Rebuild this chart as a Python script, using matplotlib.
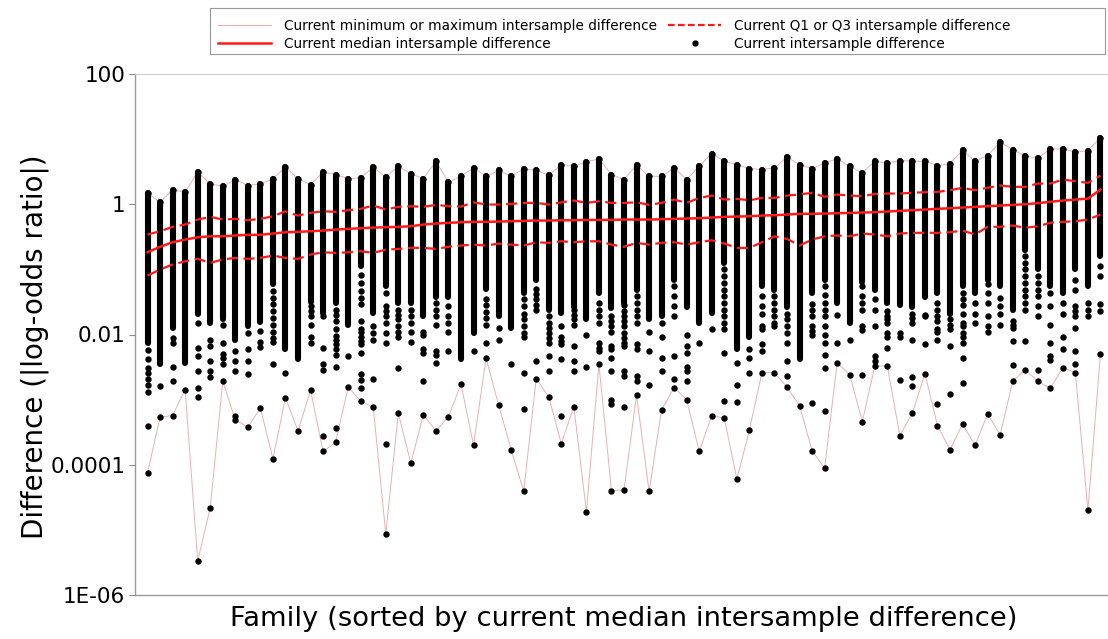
import matplotlib
matplotlib.use('Agg')
import matplotlib.pyplot as plt
from matplotlib.lines import Line2D
from matplotlib.patches import Rectangle
from matplotlib.ticker import NullLocator
import numpy as np

# ---- data (one entry per family, sorted by median) ----
max_vals = [1.5, 1.07, 1.68, 1.53, 3.1, 2.06, 1.89, 2.39, 1.94, 2.06,
            2.45, 3.75, 2.45, 2.0, 3.1, 2.86, 2.48, 2.55, 3.7, 2.6,
            3.84, 2.93, 2.48, 4.57, 2.18, 2.69, 3.62, 2.69, 3.3, 2.69,
            3.5, 3.3, 2.79, 4.07, 3.84, 4.48, 4.98, 2.86, 2.39, 4.03,
            2.69, 2.69, 3.62, 2.39, 3.84, 6.0, 4.57, 4.07, 3.53, 3.41,
            3.62, 5.27, 4.07, 3.5, 4.32, 4.98, 3.84, 3.03, 4.57, 4.32,
            4.69, 4.57, 4.57, 3.93, 4.22, 6.75, 4.57, 5.6, 8.96, 6.92,
            5.46, 5.09, 7.1, 7.1, 6.29, 6.68, 10.5]

q3_vals = [0.343, 0.385, 0.45, 0.488, 0.582, 0.64, 0.582, 0.597, 0.568, 0.597,
           0.654, 0.78, 0.67, 0.738, 0.78, 0.764, 0.809, 0.85, 0.955, 0.829,
           0.912, 0.932, 0.912, 0.979, 0.932, 0.92, 1.07, 0.99, 0.99, 1.01,
           1.05, 1.05, 0.99, 1.07, 1.14, 1.05, 1.11, 1.05, 1.05, 1.07,
           0.98, 1.05, 1.18, 1.05, 1.25, 1.36, 1.18, 1.21, 1.15, 1.25,
           1.25, 1.36, 1.41, 1.5, 1.3, 1.41, 1.36, 1.33, 1.44, 1.46,
           1.46, 1.5, 1.53, 1.55, 1.64, 1.79, 1.64, 1.79, 1.94, 1.85,
           1.85, 2.08, 2.08, 2.39, 2.26, 2.13, 2.76]

median_vals = [0.183, 0.222, 0.261, 0.287, 0.311, 0.322, 0.322, 0.331, 0.339, 0.339,
               0.355, 0.372, 0.377, 0.385, 0.394, 0.408, 0.419, 0.428, 0.438, 0.443,
               0.45, 0.459, 0.488, 0.505, 0.518, 0.529, 0.537, 0.537, 0.542, 0.548,
               0.556, 0.562, 0.562, 0.568, 0.568, 0.575, 0.575, 0.575, 0.582, 0.582,
               0.582, 0.588, 0.597, 0.603, 0.61, 0.625, 0.64, 0.647, 0.654, 0.67,
               0.678, 0.695, 0.713, 0.713, 0.72, 0.727, 0.738, 0.746, 0.754, 0.773,
               0.792, 0.809, 0.829, 0.85, 0.868, 0.89, 0.912, 0.932, 0.955, 0.979,
               1.0, 1.04, 1.09, 1.14, 1.18, 1.22, 1.68]

q1_vals = [0.0803, 0.0993, 0.119, 0.133, 0.145, 0.126, 0.142, 0.15, 0.145, 0.15,
           0.163, 0.15, 0.145, 0.169, 0.183, 0.179, 0.183, 0.19, 0.179, 0.201,
           0.206, 0.214, 0.214, 0.206, 0.222, 0.232, 0.24, 0.232, 0.249, 0.24,
           0.232, 0.261, 0.255, 0.27, 0.261, 0.27, 0.27, 0.24, 0.222, 0.255,
           0.24, 0.255, 0.261, 0.24, 0.261, 0.28, 0.249, 0.214, 0.214, 0.261,
           0.322, 0.294, 0.232, 0.287, 0.322, 0.331, 0.322, 0.355, 0.343, 0.322,
           0.355, 0.364, 0.364, 0.364, 0.372, 0.394, 0.343, 0.45, 0.45, 0.471,
           0.434, 0.459, 0.518, 0.537, 0.548, 0.582, 0.695]

min_vals = [7.5e-5, 5.4e-4, 5.7e-4, 1.43e-3, 3.3e-6, 2.2e-5, 1.9e-3, 4.9e-4, 3.8e-4, 7.4e-4,
            1.24e-4, 1.07e-3, 3.3e-4, 1.39e-3, 1.6e-4, 2.2e-4, 1.57e-3, 9.5e-4, 7.6e-4, 8.7e-6,
            6.2e-4, 1.05e-4, 5.9e-4, 3.3e-4, 5.5e-4, 1.72e-3, 2.0e-4, 4.3e-3, 8.3e-4, 1.7e-4,
            3.9e-5, 2.1e-3, 1.1e-3, 2.1e-4, 7.8e-4, 1.9e-5, 3.5e-3, 4.0e-5, 4.1e-5, 1.18e-3,
            3.9e-5, 7.0e-4, 1.53e-3, 9.9e-4, 1.6e-4, 5.7e-4, 5.2e-4, 6.0e-5, 3.4e-4, 2.6e-3,
            2.6e-3, 1.55e-3, 8.1e-4, 1.65e-4, 8.8e-5, 3.7e-3, 2.4e-3, 4.6e-4, 3.25e-3, 3.3e-3,
            2.8e-4, 6.2e-4, 2.5e-3, 4.0e-4, 1.7e-4, 4.2e-4, 2.0e-4, 6.0e-4, 2.9e-4, 1.9e-3,
            2.9e-3, 1.9e-3, 1.5e-3, 3.1e-3, 2.6e-3, 2.0e-5, 5.1e-3]

# lower end of the densely packed run of points in each column
dense_low = [0.0074, 0.0035, 0.0126, 0.0036, 0.0204, 0.0151, 0.017, 0.0083, 0.0135, 0.0158,
             0.059, 0.0059, 0.0042, 0.0316, 0.0214, 0.030, 0.0141, 0.112, 0.0214, 0.055,
             0.030, 0.030, 0.019, 0.038, 0.038, 0.0042, 0.0107, 0.05, 0.019, 0.0126,
             0.0437, 0.069, 0.024, 0.0214, 0.0269, 0.017, 0.0437, 0.0257, 0.030, 0.049,
             0.017, 0.019, 0.069, 0.0269, 0.0151, 0.0214, 0.126, 0.0059, 0.0093, 0.055,
             0.049, 0.0269, 0.0042, 0.0437, 0.069, 0.030, 0.0151, 0.063, 0.049, 0.030,
             0.028, 0.0269, 0.038, 0.0437, 0.0204, 0.055, 0.0437, 0.069, 0.055, 0.024,
             0.2, 0.1, 0.055, 0.0437, 0.1, 0.055, 0.158]

# isolated points below the dense run (excluding min)
sparse_vals = [
    [5.8e-3, 4.2e-3, 3.1e-3, 2.6e-3, 2.1e-3, 1.7e-3, 1.3e-3, 3.9e-4],
    [1.6e-3],
    [8.9e-3, 7.4e-3, 3.2e-3, 1.9e-3],
    [],
    [1.5e-2, 6.3e-3, 4.6e-3, 2.8e-3, 1.5e-3, 1.1e-3],
    [8.3e-3, 6.6e-3, 3.9e-3, 2.8e-3, 2.2e-3],
    [1.4e-2, 7.4e-3, 5.1e-3, 4.3e-3, 3.5e-3],
    [5.5e-3, 3.9e-3, 2.8e-3, 5.6e-4],
    [1.07e-2, 6.0e-3, 3.9e-3, 2.5e-3],
    [1.12e-2, 7.6e-3, 6.5e-3],
    [4.6e-2, 3.6e-2, 2.9e-2, 2.3e-2, 1.8e-2, 1.4e-2, 1.1e-2, 8.9e-3, 7.6e-3, 3.5e-3],
    [2.6e-3],
    [],
    [2.7e-2, 2.3e-2, 1.9e-2, 1.4e-2, 9.3e-3, 7.4e-3],
    [1.9e-2, 6.3e-3, 3.5e-3, 2.9e-3, 2.8e-4],
    [2.4e-2, 2.0e-2, 1.6e-2, 1.2e-2, 9.5e-3, 8.3e-3, 7.1e-3, 5.9e-3, 4.9e-3, 3.2e-3, 3.7e-4],
    [4.7e-3],
    [8.3e-2, 6.2e-2, 4.6e-2, 3.6e-2, 2.9e-2, 1.6e-2, 1.2e-2, 1.1e-2, 9.3e-3, 7.9e-3, 7.1e-3,
     5.2e-3, 2.5e-3, 2.0e-3, 1.5e-3],
    [1.35e-2, 1.07e-2, 8.3e-3, 2.1e-3],
    [4.3e-2, 2.7e-2, 2.3e-2, 1.9e-2, 1.5e-2, 1.05e-2, 7.4e-3, 2.1e-4],
    [2.4e-2, 2.0e-2, 1.7e-2, 1.35e-2, 1.1e-2, 9.3e-3, 3.1e-3],
    [2.4e-2, 1.9e-2, 1.5e-2, 1.1e-2, 7.6e-3],
    [1.1e-2, 1.0e-2, 5.9e-3, 5.2e-3, 1.9e-3],
    [3.0e-2, 2.4e-2, 1.9e-2, 1.4e-2, 5.5e-3, 4.8e-3, 3.6e-3],
    [2.7e-2, 1.9e-2, 1.5e-2, 1.1e-2, 5.5e-3],
    [],
    [5.5e-3],
    [3.5e-2, 2.8e-2, 2.2e-2, 1.8e-2, 1.4e-2, 7.4e-3],
    [1.26e-2, 8.1e-3],
    [3.5e-3],
    [3.5e-2, 2.7e-2, 2.1e-2, 1.7e-2, 1.35e-2, 1.07e-2, 9.3e-3, 2.6e-3, 7.1e-4],
    [5.0e-2, 4.2e-2, 3.5e-2, 2.8e-2, 2.4e-2, 3.9e-3],
    [1.9e-2, 1.5e-2, 1.26e-2, 1.07e-2, 8.9e-3, 7.4e-3, 4.7e-3, 2.8e-3],
    [1.35e-2, 9.3e-3, 7.9e-3, 7.1e-3, 4.2e-3, 5.6e-4],
    [2.4e-2, 2.0e-2, 1.7e-2, 1.4e-2, 6.6e-3, 3.9e-3, 2.8e-3],
    [1.0e-2, 3.2e-3],
    [3.0e-2, 2.4e-2, 1.9e-2, 1.5e-2, 7.4e-3, 6.3e-3, 5.5e-3],
    [1.9e-2, 1.6e-2, 1.35e-2, 1.1e-2, 6.6e-3, 5.9e-3, 4.4e-3, 2.8e-3, 1.0e-3, 8.7e-4],
    [2.8e-2, 2.3e-2, 1.9e-2, 1.6e-2, 1.35e-2, 1.07e-2, 8.9e-3, 7.4e-3, 6.6e-3, 2.8e-3, 2.3e-3, 7.8e-4],
    [3.9e-2, 3.0e-2, 2.4e-2, 1.9e-2, 1.5e-2, 7.1e-3, 6.0e-3, 2.3e-3, 1.9e-3],
    [1.1e-2, 5.5e-3, 1.7e-3],
    [1.5e-2, 9.3e-3, 4.4e-3, 2.8e-3],
    [5.5e-2, 3.9e-2, 2.7e-2, 1.9e-2, 4.7e-3, 2.1e-3],
    [1.0e-2, 6.6e-3, 5.2e-3, 3.2e-3, 2.8e-3, 1.9e-3],
    [7.4e-3],
    [1.2e-2],
    [0.1, 7.9e-2, 6.2e-2, 4.9e-2, 3.9e-2, 3.0e-2, 2.4e-2, 1.9e-2, 1.5e-2, 1.2e-2, 5.2e-3, 9.5e-4],
    [3.6e-3, 1.7e-3, 9.1e-4],
    [5.9e-3, 4.4e-3, 2.6e-3],
    [3.9e-2, 2.7e-2, 2.1e-2, 1.35e-2, 1.23e-2, 7.1e-3, 5.5e-3],
    [3.9e-2, 3.0e-2, 2.4e-2, 1.9e-2, 1.5e-2, 1.35e-2],
    [2.1e-2, 1.7e-2, 1.35e-2, 1.05e-2, 7.4e-3, 3.9e-3, 2.3e-3],
    [],
    [2.9e-2, 2.4e-2, 1.9e-2, 1.35e-2, 1.12e-2, 1.0e-2, 8.9e-4],
    [5.5e-2, 4.1e-2, 3.0e-2, 2.4e-2, 1.9e-2, 1.35e-2, 1.0e-2, 7.4e-3, 4.9e-3, 3.1e-3, 6.6e-4],
    [2.0e-2, 7.4e-3],
    [8.3e-3],
    [5.5e-2, 3.9e-2, 3.0e-2, 2.4e-2, 1.35e-2, 1.17e-2, 2.4e-3],
    [3.5e-2, 2.4e-2, 1.35e-2, 4.7e-3, 3.9e-3],
    [2.3e-2, 1.9e-2, 1.7e-2, 1.5e-2, 1.05e-2, 9.3e-3, 6.3e-3],
    [1.07e-2, 9.1e-3, 2.0e-3],
    [2.1e-2, 1.8e-2, 1.5e-2, 8.3e-3, 2.2e-3, 1.6e-3],
    [2.0e-2, 1.9e-2, 7.1e-3],
    [3.0e-2, 2.4e-2, 1.9e-2, 1.6e-2, 1.2e-2, 1.1e-2, 8.3e-3, 8.5e-4],
    [1.7e-2, 1.4e-2, 1.2e-2, 6.6e-3, 1.2e-3],
    [4.4e-2, 3.5e-2, 2.8e-2, 2.1e-2, 1.5e-2, 1.35e-2, 1.05e-2, 9.3e-3, 7.4e-3, 4.4e-3, 1.8e-3],
    [3.0e-2, 2.1e-2, 1.5e-2],
    [5.9e-2, 4.4e-2, 3.0e-2, 1.9e-2, 1.35e-2, 1.1e-2],
    [3.6e-2, 2.7e-2, 2.1e-2, 1.4e-2],
    [1.6e-2, 1.4e-2, 1.26e-2, 7.9e-3, 3.4e-3],
    [0.158, 0.126, 0.1, 7.9e-2, 6.2e-2, 4.9e-2, 3.9e-2, 3.0e-2, 2.4e-2, 7.9e-3],
    [7.9e-2, 6.2e-2, 4.9e-2, 3.9e-2, 2.7e-2, 1.9e-2, 2.9e-3],
    [4.4e-2, 2.7e-2, 1.4e-2, 7.4e-3, 4.6e-3, 4.1e-3],
    [3.0e-2, 2.1e-2, 9.3e-3, 5.9e-3],
    [6.9e-2, 4.9e-2, 2.7e-2, 2.3e-2, 1.9e-2, 1.26e-2, 5.5e-3, 3.5e-3],
    [3.0e-2, 2.4e-2, 1.9e-2],
    [0.112, 7.9e-2, 2.9e-2, 2.3e-2],
]

ytick_vals = [1e-6, 1e-4, 1e-2, 1, 100]
ytick_labels = ['1E-06', '0.0001', '0.01', '1', '100']

# ---- figure ----
W, H = 1108, 639
fig = plt.figure(figsize=(W / 100, H / 100), dpi=100)
ax = fig.add_axes([135 / W, 1 - 595 / H, (1113 - 135) / W, (595 - 74) / H])
ax.set_yscale('log')
ax.set_ylim(1e-6, 100)
ax.set_xlim(-1, 77)

fam = np.arange(len(max_vals))

# dense runs of points (drawn as a continuous stack of dots)
ax.vlines(fam, dense_low, max_vals, colors='black', linewidth=4.4,
          capstyle='round', zorder=2)

# individual points
px, py = [], []
for i in fam:
    for v in [max_vals[i], min_vals[i]] + sparse_vals[i]:
        px.append(i)
        py.append(v)
ax.plot(px, py, linestyle='none', marker='o', markersize=4.6,
        color='black', markeredgewidth=0, zorder=3)

pink = '#eab0b0'
ax.plot(fam, min_vals, color=pink, lw=0.7, zorder=1)
ax.plot(fam, max_vals, color=pink, lw=0.7, zorder=1)
red = '#ff1a1a'
ax.plot(fam, q1_vals, color=red, lw=1.6, dashes=(5, 2.5), zorder=4)
ax.plot(fam, q3_vals, color=red, lw=1.6, dashes=(5, 2.5), zorder=4)
ax.plot(fam, median_vals, color=red, lw=1.8, zorder=4)

# axes styling
ax.set_yticks(ytick_vals)
ax.set_yticklabels(ytick_labels)
ax.yaxis.set_minor_locator(NullLocator())
ax.set_xticks([])
ax.tick_params(axis='y', direction='out', length=4, width=0.8,
               color='#888888', labelsize=15.5, pad=3)
for s in ['left', 'bottom']:
    ax.spines[s].set_color('#999999')
    ax.spines[s].set_linewidth(1.0)
ax.spines['top'].set_color('#cccccc')
ax.spines['right'].set_visible(False)

ax.set_ylabel('Difference (|log-odds ratio|)', fontsize=20)
ax.yaxis.set_label_coords(-0.088, (595 - 347) / 521)
ax.set_xlabel('Family (sorted by current median intersample difference)',
              fontsize=19.7, labelpad=8)

# legend (frame drawn separately so it spans the same width as the original)
handles = [
    Line2D([], [], color=pink, lw=0.8),
    Line2D([], [], color=red, lw=1.8),
    Line2D([], [], color=red, lw=1.6, dashes=(3, 1.5)),
    Line2D([], [], linestyle='none', marker='o', markersize=3.5, color='black'),
]
labels = ['Current minimum or maximum intersample difference',
          'Current median intersample difference',
          'Current Q1 or Q3 intersample difference',
          'Current intersample difference']
fig.legend(handles, labels, ncol=2, loc='upper left',
           bbox_to_anchor=(210 / W, 1 - 11 / H), fontsize=9.8,
           frameon=False, handlelength=3.9, borderaxespad=0,
           columnspacing=0.86, borderpad=0.6, labelspacing=0.25,
           handletextpad=0.9)
fig.patches.append(Rectangle((210 / W, 1 - 54 / H), (1105 - 210) / W, 46 / H,
                             transform=fig.transFigure, fill=False,
                             edgecolor='#999999', linewidth=0.8))

fig.savefig('out.png', dpi=100)
